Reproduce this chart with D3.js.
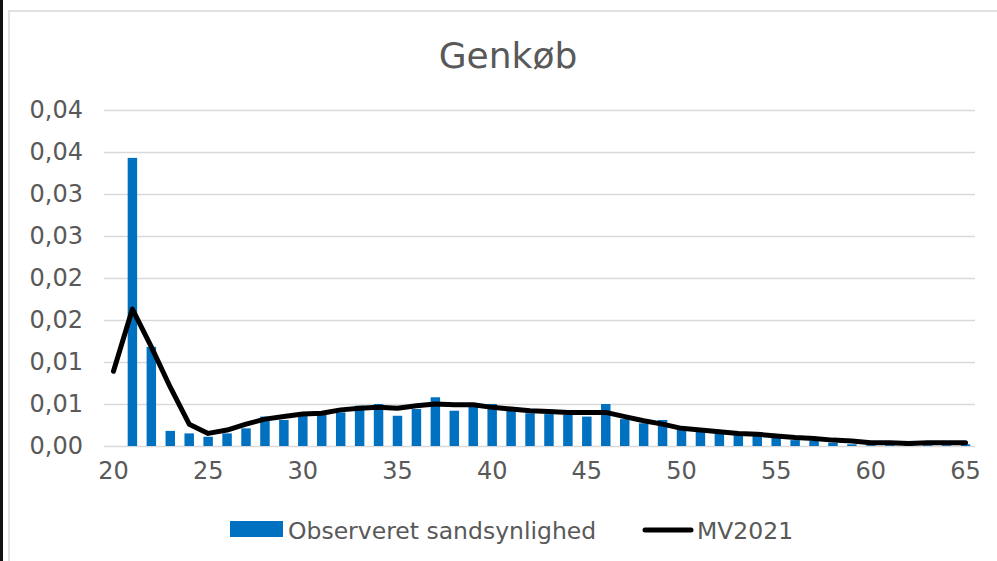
<!DOCTYPE html>
<html lang="da">
<head>
<meta charset="utf-8">
<title>Genkøb</title>
<script src="https://d3js.org/d3.v7.min.js"></script>
<style>
	body {
		margin: 0;
		background: #fff;
		font-family: Verdana, "DejaVu Sans", sans-serif;
	}

	.tick text {
		font-family: Verdana, "DejaVu Sans", sans-serif;
		fill: #595959;
		font-size: 24px;
	}

	.grid .tick line {
		stroke: #d9d9d9;
		stroke-width: 1.5;
	}

	path.domain {
		display: none;
	}

	.title {
		fill: #595959;
		font-size: 36px;
	}

	.legend-text {
		fill: #595959;
		font-size: 23.5px;
	}
</style>
</head>
<body>
<div id="vis"></div>
<script>

// Ages on the category axis
const ages = d3.range(20, 66);

// Observeret sandsynlighed (bars)
const observed = [
	0, 0.0343, 0.0118, 0.0018, 0.0015, 0.0011, 0.0015, 0.0021, 0.0035, 0.0031,
	0.0036, 0.0037, 0.0040, 0.0048, 0.0050, 0.0036, 0.0044, 0.0058, 0.0042, 0.0048,
	0.0050, 0.0043, 0.0039, 0.0038, 0.0037, 0.0035, 0.0050, 0.0032, 0.0027, 0.0031,
	0.0021, 0.0017, 0.0015, 0.0013, 0.0012, 0.0010, 0.0007, 0.0006, 0.0004, 0.0002,
	0.0001, 0.0001, 0.0001, 0.0001, 0.0001, 0.0002
];

// MV2021 (line)
const mv2021 = [
	0.0089, 0.0163, 0.0118, 0.0070, 0.0026, 0.0015, 0.0019, 0.0026, 0.0032, 0.0035,
	0.0038, 0.0039, 0.0043, 0.0045, 0.0046, 0.0045, 0.0048, 0.0050, 0.0049, 0.0049,
	0.0046, 0.0044, 0.0042, 0.0041, 0.0040, 0.0040, 0.0040, 0.0035, 0.0030, 0.0026,
	0.0021, 0.0019, 0.0017, 0.0015, 0.0014, 0.0012, 0.0010, 0.0009, 0.0007, 0.0006,
	0.0004, 0.0004, 0.0003, 0.0004, 0.0004, 0.0004
];

// Axis ticks (Excel rounds the 0,005 steps to two decimals)
const yTickValues = [0, 0.005, 0.01, 0.015, 0.02, 0.025, 0.03, 0.035, 0.04];
const yTickLabels = ["0,00", "0,01", "0,01", "0,02", "0,02", "0,03", "0,03", "0,04", "0,04"];
const xTickValues = [20, 25, 30, 35, 40, 45, 50, 55, 60, 65];

const seriesNames = ["Observeret sandsynlighed", "MV2021"];

const W = 997, H = 561;
const plot = { left: 104, right: 975, top: 110, bottom: 446 };

const svg = d3.select("#vis").append("svg")
	.attr("width", W)
	.attr("height", H)
	.style("display", "block");

// dark strip at the very left and the chart frame
svg.append("rect").attr("x", 0).attr("y", 0).attr("width", 3).attr("height", H).attr("fill", "#111");
svg.append("rect")
	.attr("x", 9).attr("y", 11)
	.attr("width", W + 20).attr("height", H + 20)
	.attr("fill", "#fff")
	.attr("stroke", "#d9d9d9")
	.attr("stroke-width", 1.5);

/* Scales */
const x = d3.scaleBand()
	.domain(ages)
	.range([plot.left, plot.right])
	.paddingInner(0.5)
	.paddingOuter(0.25);

const y = d3.scaleLinear()
	.domain([0, 0.04])
	.range([plot.bottom, plot.top]);

/* Gridlines + y labels */
const yAxis = d3.axisLeft(y)
	.tickValues(yTickValues)
	.tickSize(-(plot.right - plot.left))
	.tickPadding(21)
	.tickFormat((d, i) => yTickLabels[i]);

svg.append("g")
	.attr("class", "grid")
	.attr("transform", "translate(" + plot.left + ",0)")
	.call(yAxis);

/* x labels */
const xAxis = d3.axisBottom(x)
	.tickValues(xTickValues)
	.tickSize(0)
	.tickPadding(16);

svg.append("g")
	.attr("class", "x axis")
	.attr("transform", "translate(0," + plot.bottom + ")")
	.call(xAxis);

/* Bars */
svg.append("g").selectAll("rect")
	.data(ages)
	.enter().append("rect")
	.attr("x", d => x(d))
	.attr("width", x.bandwidth())
	.attr("y", (d, i) => y(observed[i]))
	.attr("height", (d, i) => y(0) - y(observed[i]))
	.attr("fill", "#0070c0");

/* Line */
const line = d3.line()
	.x((d, i) => x(ages[i]) + x.bandwidth() / 2)
	.y(d => y(d));

svg.append("path")
	.datum(mv2021)
	.attr("d", line)
	.attr("fill", "none")
	.attr("stroke", "#000")
	.attr("stroke-width", 5)
	.attr("stroke-linejoin", "round")
	.attr("stroke-linecap", "round");

/* Title */
svg.append("text")
	.attr("class", "title")
	.attr("x", 508)
	.attr("y", 68)
	.attr("text-anchor", "middle")
	.text("Genkøb");

/* Legend */
const lg = svg.append("g").attr("class", "legend");
lg.append("rect")
	.attr("x", 230).attr("y", 521)
	.attr("width", 53).attr("height", 16)
	.attr("fill", "#0070c0");
lg.append("text")
	.attr("class", "legend-text")
	.attr("x", 288).attr("y", 539)
	.text(seriesNames[0]);
lg.append("line")
	.attr("x1", 645).attr("x2", 691)
	.attr("y1", 530).attr("y2", 530)
	.attr("stroke", "#000")
	.attr("stroke-width", 5)
	.attr("stroke-linecap", "round");
lg.append("text")
	.attr("class", "legend-text")
	.attr("x", 697).attr("y", 539)
	.text(seriesNames[1]);

</script>
</body>
</html>
